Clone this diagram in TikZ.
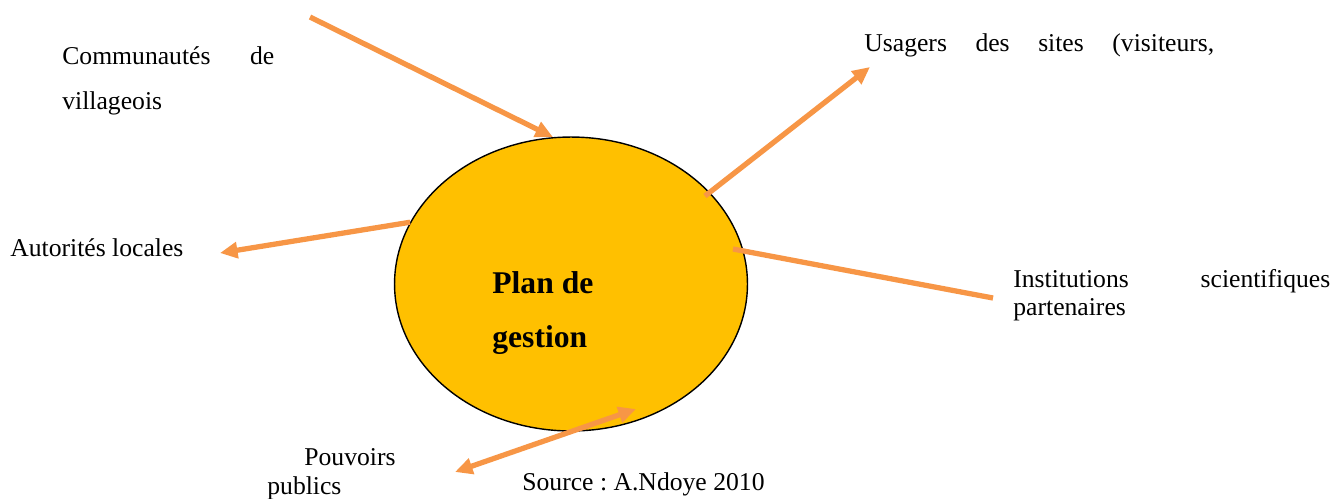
\documentclass[tikz,border=0pt]{standalone}
\usepackage{fontspec}
\setmainfont{Liberation Serif}
\usetikzlibrary{arrows.meta,shapes.geometric}
\definecolor{pgorange}{HTML}{F79646}
\definecolor{pgyellow}{HTML}{FFC000}
\frenchspacing

\begin{document}
\begin{tikzpicture}[x=0.02cm, y=-0.02cm,
      font=\fontsize{14.6}{16.4}\selectfont,
      txt/.style={inner sep=0pt, anchor=base west},
      jtxt/.style={txt, align=justify},
      link/.style={line width=3pt, draw=pgorange,
                   -{Triangle[length=10pt,width=9pt]}},
      twolink/.style={link, {Triangle[length=10pt,width=9pt]}-{Triangle[length=10pt,width=9pt]}}
    ]
    \useasboundingbox (0,0) rectangle (1335,498);

    % Plan de gestion
    \node[ellipse, draw=black, line width=0.8pt, fill=pgyellow, inner sep=0pt,
          minimum width=7.06cm, minimum height=5.88cm]
      (plan) at (571,284) {};
    \node[txt, align=left, font=\fontsize{18}{30.6}\selectfont\bfseries]
      (plantxt) at (492,347) {Plan de\\gestion};

    % Acteurs
    \node[jtxt, text width=4.24cm, font=\fontsize{14.6}{26}\selectfont]
      (comm) at (62,64) {Communautés de\linebreak villageois};
    \node[txt] (auto) at (10,256) {Autorités locales};
    \node[txt] (usag) at (864,51) {\makebox[7cm][s]{Usagers des sites (visiteurs,}};
    \node[jtxt, text width=6.34cm]
      (inst) at (1013,287) {Institutions scientifiques\linebreak partenaires};
    \node[txt, align=left] (pouv) at (267,494) {\hspace*{0.74cm}Pouvoirs\\publics};
    \node[txt] (src) at (522,490) {Source : A.Ndoye 2010};

    % Liens
    \coordinate (commend) at (310,17);
    \coordinate (autoend) at (220,253);
    \coordinate (usagbeg) at (705,196);
    \coordinate (usagend) at (870,67);
    \coordinate (instbeg) at (733,249);
    \coordinate (instend) at (993,298);
    \coordinate (pouvbeg) at (636,409);
    \coordinate (pouvend) at (455,472);

    \draw[link] (commend) -- (plan.97);
    \draw[link] (plan.159) -- (autoend);
    \draw[link] (usagbeg) -- (usagend);
    \draw[link, -] (instbeg) -- (instend);
    \draw[twolink] (pouvbeg) -- (pouvend);
  \end{tikzpicture}
\end{document}
